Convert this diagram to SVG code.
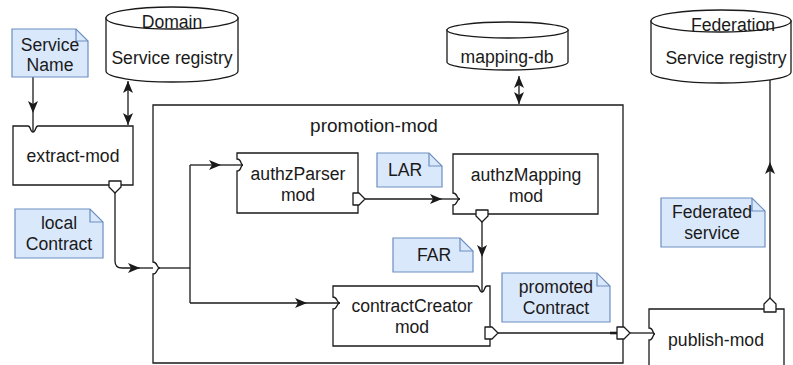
<svg xmlns="http://www.w3.org/2000/svg" width="793" height="365" viewBox="0 0 793 365">
<style>
.box{fill:#fff;stroke:#1a1a1a;stroke-width:1.3}
.port{fill:#fff;stroke:#1a1a1a;stroke-width:1.3;stroke-linejoin:round}
.note{fill:#dae8fc;stroke:#6c8ebf;stroke-width:1.2}
.fold{fill:none;stroke:#6c8ebf;stroke-width:1.2}
.cyl{fill:#fff;stroke:#1a1a1a;stroke-width:1.3}
.t{font-family:"Liberation Sans",Arial,sans-serif;font-size:17.6px;fill:#1a1a1a;text-anchor:middle}
.big{font-size:19px}
.c{fill:none;stroke:#1a1a1a;stroke-width:1.3}
</style>
<defs>
<marker id="arr" markerUnits="userSpaceOnUse" markerWidth="13" markerHeight="11" refX="12" refY="5" orient="auto-start-reverse">
<path d="M0,0 L12,5 L0,10 L3,5 Z" fill="#1a1a1a"/>
</marker>
</defs>

<g id="connectors">
<path class="c" d="M33,77 V113" marker-end="url(#arr)"/>
<path class="c" d="M33,113 V132"/>
<path class="c" d="M128,81 V125" marker-start="url(#arr)" marker-end="url(#arr)"/>
<path class="c" d="M519,76 V104" marker-start="url(#arr)" marker-end="url(#arr)"/>
<path class="c" d="M115,193 V261 Q115,268 122,268 H140" marker-end="url(#arr)"/>
<path class="c" d="M140,268 H153"/>
<path class="c" d="M160,268 H190"/>
<path class="c" d="M190,165 V303"/>
<path class="c" d="M190,165 H221" marker-end="url(#arr)"/>
<path class="c" d="M221,165 H243"/>
<path class="c" d="M190,303 H307" marker-end="url(#arr)"/>
<path class="c" d="M307,303 H340"/>
<path class="c" d="M365,199 H442" marker-end="url(#arr)"/>
<path class="c" d="M442,199 H460"/>
<path class="c" d="M482,222 V257" marker-end="url(#arr)"/>
<path class="c" d="M482,257 V292"/>
<path class="c" d="M498,333 H617"/>
<path d="M610,333 H617" stroke="#1a1a1a" stroke-width="2.6"/>
<path class="c" d="M630,333 H655"/>
<path class="c" d="M770,298 V162" marker-end="url(#arr)"/>
<path class="c" d="M770,162 V80"/>
</g>

<g id="service-name">
<path class="note" d="M12,29 H76 L88,41 V77 H12 Z"/>
<path class="fold" d="M76,29 V41 H88"/>
<text class="t" x="50" y="51">Service</text>
<text class="t" x="50" y="71">Name</text>
</g>

<g id="domain-registry">
<path class="cyl" d="M106,18 V71 A66,11 0 0 0 238,71 V18 Z"/>
<ellipse class="cyl" cx="172" cy="18" rx="66" ry="11"/>
<text class="t" x="172" y="28">Domain</text>
<text class="t" x="172" y="64">Service registry</text>
</g>

<g id="extract-mod">
<path class="box" d="M13,126 H28 C31,126 30,132 33,132 C36,132 35,126 38,126 H133 V185 H13 Z"/>
<text class="t" x="73" y="162">extract-mod</text>
<path class="port" d="M109,181 H121 V187 L115,193 L109,187 Z"/>
</g>

<g id="local-contract">
<path class="note" d="M15,209 H90 L103,222 V258 H15 Z"/>
<path class="fold" d="M90,209 V222 H103"/>
<text class="t" x="59" y="229">local</text>
<text class="t" x="59" y="250">Contract</text>
</g>

<g id="mapping-db">
<path class="cyl" d="M447,30 V62 A60.5,8 0 0 0 568,62 V30 Z"/>
<ellipse class="cyl" cx="507.5" cy="30" rx="60.5" ry="8"/>
<text class="t" x="507" y="63">mapping-db</text>
</g>

<g id="federation-registry">
<path class="cyl" d="M651,21 V72 A70,11 0 0 0 791,72 V21 Z"/>
<ellipse class="cyl" cx="721" cy="21" rx="70" ry="11"/>
<text class="t" x="733" y="31">Federation</text>
<text class="t" x="726" y="64">Service registry</text>
</g>

<g id="promotion-mod">
<path class="box" style="fill:none" d="M153,105 H623 V363 H153 V274 C158,274 156,268 160,268 C156,268 158,262 153,262 Z"/>
<text class="t big" x="374" y="132">promotion-mod</text>
<path class="port" d="M617,327 V339 H624 L630,333 L624,327 Z"/>
</g>

<g id="authzparser-mod">
<path class="box" d="M237,153 H358 V213 H237 V171 C242,171 240,165 243,165 C240,165 242,159 237,159 Z"/>
<text class="t" x="298" y="180">authzParser</text>
<text class="t" x="298" y="201">mod</text>
<path class="port" d="M353,193 V205 H359 L365,199 L359,193 Z"/>
</g>

<g id="lar">
<path class="note" d="M377,153 H429 L442,166 V187 H377 Z"/>
<path class="fold" d="M429,153 V166 H442"/>
<text class="t" x="405" y="176">LAR</text>
</g>

<g id="authzmapping-mod">
<path class="box" d="M453,154 H598 V214 H453 V205 C458,205 456,199 460,199 C456,199 458,193 453,193 Z"/>
<text class="t" x="526" y="181">authzMapping</text>
<text class="t" x="526" y="202">mod</text>
<path class="port" d="M476,210 H488 V216 L482,222 L476,216 Z"/>
</g>

<g id="far">
<path class="note" d="M393,238 H460 L473,251 V272 H393 Z"/>
<path class="fold" d="M460,238 V251 H473"/>
<text class="t" x="434" y="261">FAR</text>
</g>

<g id="contractcreator-mod">
<path class="box" d="M333,286 H477 C480,286 479,292 482,292 C485,292 484,286 487,286 H490 V346 H333 V309 C338,309 336,303 340,303 C336,303 338,297 333,297 Z"/>
<text class="t" x="412" y="312">contractCreator</text>
<text class="t" x="412" y="333">mod</text>
<path class="port" d="M485,327 V339 H492 L498,333 L492,327 Z"/>
</g>

<g id="promoted-contract">
<path class="note" d="M502,273 H597 L610,286 V322 H502 Z"/>
<path class="fold" d="M597,273 V286 H610"/>
<text class="t" x="556" y="293">promoted</text>
<text class="t" x="556" y="314">Contract</text>
</g>

<g id="federated-service">
<path class="note" d="M661,198 H752 L765,211 V247 H661 Z"/>
<path class="fold" d="M752,198 V211 H765"/>
<text class="t" x="712" y="218">Federated</text>
<text class="t" x="712" y="239">service</text>
</g>

<g id="publish-mod">
<path class="box" d="M649,309 H784 V372 H649 V340 C654,340 652,334 655,334 C652,334 654,328 649,328 Z"/>
<text class="t" x="716" y="346">publish-mod</text>
<path class="port" d="M764,312 V304 L770,298 L776,304 V312 Z"/>
</g>
</svg>
